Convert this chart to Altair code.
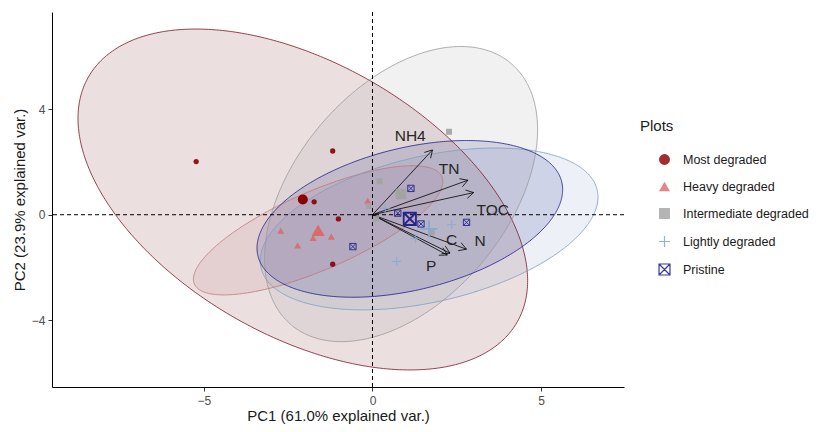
import numpy as np
import pandas as pd
import altair as alt

# ---------------- data ----------------
groups = ["Most degraded", "Heavy degraded", "Intermediate degraded",
          "Lightly degraded", "Pristine"]

most_x = [-5.23, -1.18, -1.73, -1.01, -1.18]
most_y = [2.02, 2.42, 0.49, -0.16, -1.88]
heavy_x = [-2.72, -2.22, -1.76, -1.22, -0.14]
heavy_y = [-0.61, -1.17, -0.88, -0.83, 0.53]
inter_x = [2.27, 0.21, -0.11, 0.11, 1.76]
inter_y = [3.15, 1.27, 0.33, -0.16, -0.67]
light_x = [0.72, 2.35, 3.68, 0.38, 1.27]
light_y = [-1.77, -0.38, 0.12, 0.24, -0.91]
pristine_x = [-0.58, 1.14, 0.75, 1.44, 2.79]
pristine_y = [-1.21, 1.00, 0.06, -0.35, -0.29]

var_names = ["NH4", "TN", "TOC", "C", "N", "P"]
var_x = [1.78, 2.83, 3.00, 2.30, 2.79, 2.22]
var_y = [2.46, 1.31, 0.84, -1.46, -1.31, -1.53]
label_x = [1.12, 2.27, 3.57, 2.35, 3.19, 1.74]
label_y = [2.99, 1.72, 0.19, -0.95, -0.98, -1.93]

x_ticks = [-5, 0, 5]
y_ticks = [-4, 0, 4]
x_title = "PC1 (61.0% explained var.)"
y_title = "PC2 (23.9% explained var.)"
legend_title = "Plots"

# ---------------- styles ----------------
W, H = 572, 375
FONT = "Liberation Sans"
colors = ["#8B0000", "#DC6A6A", "#A3A3A3", "#86A9D1", "#25258F"]
ell_colors = ["#7A1A26", "#C07575", "#9A9A9A", "#7F9CC4", "#1E1E88"]
CROSS = "M-1,0L1,0M0,-1L0,1"
SQX = "M-1,-1L1,-1L1,1L-1,1Z M-1,-1L1,1 M1,-1L-1,1"
small_size = dict(zip(groups, [28, 50, 36, 81, 40]))
big_size = dict(zip(groups, [100, 170, 110, 300, 150]))

gx = [most_x, heavy_x, inter_x, light_x, pristine_x]
gy = [most_y, heavy_y, inter_y, light_y, pristine_y]

# ---------------- 95% normal data ellipses (as stat_ellipse type="norm") ----------------
def qf2(p, d):
    return (d / 2.0) * ((1 - p) ** (-2.0 / d) - 1)

area_rows, line_rows = [], []
for g, xs, ys in zip(groups, gx, gy):
    P = np.column_stack([xs, ys])
    n = len(P)
    c = P.mean(0)
    S = np.cov(P.T, ddof=1)
    r = np.sqrt(2 * qf2(0.95, n - 1))
    inv = np.linalg.inv(S)
    a, b, d = inv[0, 0], inv[0, 1], inv[1, 1]
    hx = r * np.sqrt(S[0, 0])
    t = np.linspace(np.pi, 0, 241)
    u = hx * np.cos(t)
    disc = np.clip(b * b * u * u - d * (a * u * u - r * r), 0, None)
    v1 = (-b * u + np.sqrt(disc)) / d
    v2 = (-b * u - np.sqrt(disc)) / d
    ex = c[0] + u
    hi = c[1] + np.maximum(v1, v2)
    lo = c[1] + np.minimum(v1, v2)
    for xx, l, h in zip(ex, lo, hi):
        area_rows.append({"group": g, "x": xx, "lo": l, "hi": h})
    ox = np.concatenate([ex, ex[::-1]])
    oy = np.concatenate([hi, lo[::-1]])
    for i, (xx, yy) in enumerate(zip(ox, oy)):
        line_rows.append({"group": g, "x": xx, "y": yy, "o": i})

area_df = pd.DataFrame(area_rows)
line_df = pd.DataFrame(line_rows)

xmin, xmax = area_df["x"].min(), area_df["x"].max()
ymin, ymax = area_df["lo"].min(), area_df["hi"].max()
xe, ye = 0.05 * (xmax - xmin), 0.05 * (ymax - ymin)
xdom = [xmin - xe, xmax + xe]
ydom = [ymin - ye, ymax + ye]

# ---------------- points & centroids ----------------
pts = []
cents = []
for g, xs, ys in zip(groups, gx, gy):
    for xx, yy in zip(xs, ys):
        pts.append({"group": g, "x": xx, "y": yy, "sz": small_size[g]})
    cents.append({"group": g, "x": float(np.mean(xs)), "y": float(np.mean(ys)), "sz": big_size[g]})
pts_df = pd.DataFrame(pts)
cent_df = pd.DataFrame(cents)

# ---------------- arrows ----------------
sxp = W / (xdom[1] - xdom[0])
syp = H / (ydom[1] - ydom[0])
seg = []
L = 8.5
for vx, vy in zip(var_x, var_y):
    seg.append({"x": 0.0, "y": 0.0, "x2": vx, "y2": vy})
    px, py = vx * sxp, vy * syp
    nrm = np.hypot(px, py)
    dx, dy = -px / nrm, -py / nrm
    for ang in (np.radians(30), -np.radians(30)):
        bx = dx * np.cos(ang) - dy * np.sin(ang)
        by = dx * np.sin(ang) + dy * np.cos(ang)
        seg.append({"x": vx, "y": vy, "x2": (px + L * bx) / sxp, "y2": (py + L * by) / syp})
seg_df = pd.DataFrame(seg)
lab_df = pd.DataFrame({"name": var_names, "x": label_x, "y": label_y})

# ---------------- encodings ----------------
xscale = alt.Scale(domain=xdom, nice=False, zero=False)
yscale = alt.Scale(domain=ydom, nice=False, zero=False)
xaxis = alt.Axis(values=x_ticks, title=x_title, labelPadding=4, titlePadding=2)
yaxis = alt.Axis(values=y_ticks, title=y_title, labelPadding=3, titlePadding=4)

def X(f):
    return alt.X(f, type="quantitative", scale=xscale, axis=xaxis)

def Y(f):
    return alt.Y(f, type="quantitative", scale=yscale, axis=yaxis)

# ellipse colour scale kept separate from the legend scales
ell_color = alt.Color("group:N", scale=alt.Scale(domain=groups[::-1], range=ell_colors[::-1]), legend=None)

leg = alt.Legend(title=legend_title, orient="none", legendX=588, legendY=107,
                 symbolSize=120, symbolStrokeWidth=1.2, symbolOffset=18,
                 labelFontSize=12.5, titleFontSize=15, labelFont=FONT, titleFont=FONT,
                 titleFontWeight="normal", titleColor="#1a1a1a", labelColor="#1a1a1a",
                 rowPadding=11, titlePadding=19, labelOffset=12)
shape_enc = alt.Shape("group:N", scale=alt.Scale(domain=groups, range=["circle", "triangle-up", "square", CROSS, SQX]), legend=leg)
fill_enc = alt.Fill("group:N", scale=alt.Scale(domain=groups, range=colors[:3] + ["transparent", "transparent"]), legend=leg)
stroke_enc = alt.Stroke("group:N", scale=alt.Scale(domain=groups, range=["transparent"] * 3 + colors[3:]), legend=leg)

areas = alt.Chart(area_df).mark_area(orient="vertical", fillOpacity=0.14, clip=True).encode(
    x=X("x"), y=alt.Y("lo:Q", scale=yscale, axis=yaxis, stack=None), y2="hi:Q",
    color=ell_color, detail="group:N")

outlines = alt.Chart(line_df).mark_line(strokeWidth=0.9, strokeOpacity=0.9, clip=True).encode(
    x=X("x"), y=Y("y"), color=ell_color, order="o:Q", detail="group:N")

vline = alt.Chart(pd.DataFrame({"x": [0.0]})).mark_rule(color="black", strokeDash=[4, 3], strokeWidth=1).encode(x=X("x"))
hline = alt.Chart(pd.DataFrame({"y": [0.0]})).mark_rule(color="black", strokeDash=[4, 3], strokeWidth=1).encode(y=Y("y"))

arrows = alt.Chart(seg_df).mark_rule(color="black", strokeWidth=0.8).encode(
    x=X("x"), y=Y("y"), x2="x2:Q", y2="y2:Q")

points = alt.Chart(pts_df).mark_point(opacity=0.9, strokeWidth=1).encode(
    x=X("x"), y=Y("y"), shape=shape_enc, fill=fill_enc, stroke=stroke_enc,
    size=alt.Size("sz:Q", scale=None, legend=None))

centroids = alt.Chart(cent_df).mark_point(opacity=1, strokeWidth=1.8).encode(
    x=X("x"), y=Y("y"), shape=shape_enc, fill=fill_enc, stroke=stroke_enc,
    size=alt.Size("sz:Q", scale=None, legend=None))

labels = alt.Chart(lab_df).mark_text(font=FONT, fontSize=15.5, color="#262626",
                                     align="center", baseline="middle").encode(
    x=X("x"), y=Y("y"), text="name:N")

chart = alt.layer(areas, outlines, vline, hline, arrows, points, centroids, labels).properties(
    width=W, height=H,
    padding={"left": 44, "top": 4, "right": 189, "bottom": 37},
    autosize=alt.AutoSizeParams(type="none"),
    background="white",
).configure_axis(
    grid=False, domainColor="black", domainWidth=1, tickColor="#333333", tickSize=4,
    labelColor="#4d4d4d", labelFontSize=12, labelFont=FONT, titleFont=FONT,
    titleFontSize=15, titleFontWeight="normal", titleColor="#1a1a1a",
).configure_view(stroke=None)

chart.save("out.html", embed_options={"renderer": "svg", "actions": False})
